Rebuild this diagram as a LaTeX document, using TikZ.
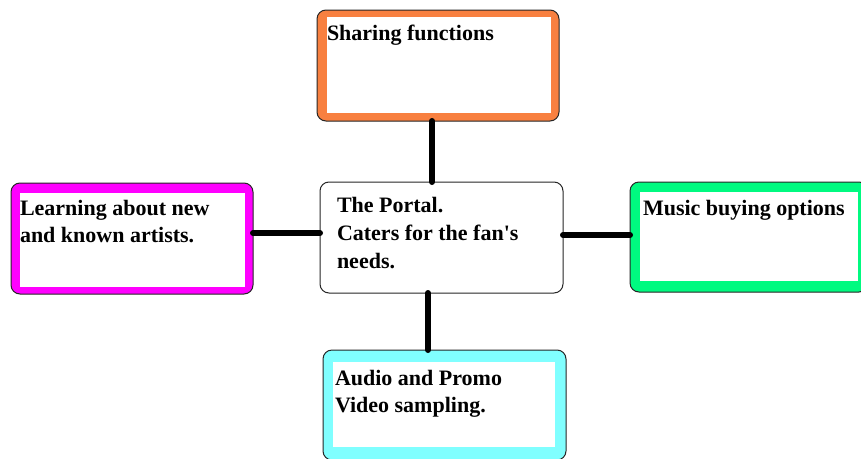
\documentclass[tikz,border=0pt]{standalone}
\usepackage{fontspec}
\setmainfont{Liberation Serif}
\begin{document}
\begin{tikzpicture}[x=1pt,y=-1pt,
  box/.style={draw=black!85, line width=1pt, rounded corners=9pt, inner sep=0pt, outer sep=0pt},
  lbl/.style={inner sep=0pt, outer sep=0pt, anchor=base west, font=\fontsize{22}{27}\selectfont\bfseries},
  link/.style={line width=6pt, line cap=round, black}]
\definecolor{orangeC}{RGB}{248,128,64}
\definecolor{magentaC}{RGB}{255,0,255}
\definecolor{greenC}{RGB}{0,250,128}
\definecolor{cyanC}{RGB}{128,255,255}
\useasboundingbox (0,0) rectangle (861,458);
\clip (0,0) rectangle (861,458);
\fill[white] (0,0) rectangle (861,458);
% boxes
\node[box, fill=orangeC, minimum width=242pt, minimum height=111pt] (share) at (438,65.5) {};
\fill[white] (327,17) rectangle (551,113);
\node[box, fill=white, minimum width=243pt, minimum height=111pt] (portal) at (441.5,237.5) {};
\node[box, fill=magentaC, minimum width=242pt, minimum height=111pt] (learn) at (132,238.5) {};
\fill[white] (20,193) rectangle (245,287);
\node[box, fill=greenC, minimum width=238pt, minimum height=110pt] (music) at (749,237) {};
\fill[white] (640,192) rectangle (858,281);
\node[box, fill=cyanC, minimum width=243pt, minimum height=110pt] (audio) at (444.5,405) {};
\fill[white] (333,362) rectangle (555,447);
% connectors
\draw[link] ([xshift=-6pt]share.south) -- ([xshift=-6pt]share.south |- portal.north);
\draw[link] (learn.east |- 0,233) -- (portal.west |- 0,233);
\draw[link] (portal.east |- 0,235) -- (music.west |- 0,235);
\draw[link] ([xshift=-13.5pt]portal.south) -- ([xshift=-13.5pt]portal.south |- audio.north);
% texts
\node[lbl] (t1) at (327,40) {Sharing functions};
\node[lbl] (t2) at (337,212) {The Portal.};
\node[lbl] (t3) at (337,240) {Caters for the fan\textquotesingle s};
\node[lbl] (t4) at (337,268) {needs.};
\node[lbl] (t5) at (20,215) {Learning about new};
\node[lbl] (t6) at (20,242) {and known artists.};
\node[lbl] (t7) at (643,215) {Music buying options};
\node[lbl] (t8) at (335,385) {Audio and Promo};
\node[lbl] (t9) at (335,412) {Video sampling.};
\end{tikzpicture}
\end{document}
